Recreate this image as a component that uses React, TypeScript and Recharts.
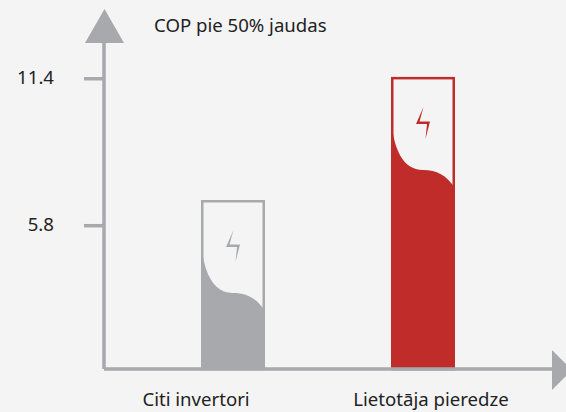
import { BarChart, Bar, XAxis, YAxis, Customized } from "recharts";

const categories = ["Citi invertori", "Lietotāja pieredze"];
const copValues = [6.78, 11.47];
const yTicks = [5.8, 11.4];
const barColors = ["#a7a9ac", "#bf2c29"];
// the labels are not centred under their bars in the original
const labelShifts = [-37, 8];

const AXIS_COLOR = "#a7a9ac";
const TEXT_COLOR = "#222222";
const FONT = "'Noto Sans', sans-serif";
const FONT_SIZE = 18.6;

const chartData = categories.map((name, i) => ({ name, cop: copValues[i] }));

function BatteryBar(props: any) {
  const { x, y, width, height, index } = props;
  const color = barColors[index];
  const bottom = y + height;
  const right = x + width;
  const level =
    `M${x},${y + 40} C${x + 2},${y + 72} ${x + 12},${y + 93} ${x + 32},${y + 93} ` +
    `C${x + 46},${y + 93} ${x + 55},${y + 98} ${right},${y + 111} L${right},${bottom} L${x},${bottom} Z`;
  const bolt =
    `M${x + 32.5},${y + 30} L${x + 25},${y + 47} L${x + 36},${y + 47} L${x + 34.5},${y + 62} ` +
    `L${x + 39},${y + 44.5} L${x + 28.5},${y + 44.5} Z`;
  return (
    <g>
      <path d={level} fill={color} />
      <rect
        x={x + 1.25}
        y={y + 1.25}
        width={width - 2.5}
        height={height - 1.25}
        fill="none"
        stroke={color}
        strokeWidth={2.5}
      />
      <path d={bolt} fill={color} />
    </g>
  );
}

function CategoryTick({ x, y, payload, index }: any) {
  return (
    <text
      x={x + labelShifts[index]}
      y={y + 35}
      textAnchor="middle"
      fontSize={FONT_SIZE}
      fontFamily={FONT}
      fill={TEXT_COLOR}
    >
      {payload.value}
    </text>
  );
}

// arrow heads and the title sit on top of the axes
function Decorations() {
  return (
    <g>
      <polygon points="104.5,9 85,43 124,43" fill={AXIS_COLOR} />
      <polygon points="552,350 552,390 572,370" fill={AXIS_COLOR} />
      <text x={154} y={32} fontSize={FONT_SIZE} fontFamily={FONT} fill={TEXT_COLOR}>
        COP pie 50% jaudas
      </text>
    </g>
  );
}

export default function App() {
  return (
    <div
      style={{
        position: "fixed",
        left: 0,
        top: 0,
        width: 566,
        height: 412,
        background: "#f4f4f5",
        overflow: "hidden",
      }}
    >
      <BarChart
        width={566}
        height={412}
        data={chartData}
        margin={{ top: 42, right: 14, bottom: 0, left: 0 }}
        barSize={64}
      >
        <XAxis
          dataKey="name"
          height={43}
          padding={{ left: 34, right: 34 }}
          axisLine={{ stroke: AXIS_COLOR, strokeWidth: 3.5 }}
          tickLine={false}
          tickSize={0}
          interval={0}
          tick={CategoryTick}
        />
        <YAxis
          width={104}
          domain={[0.34, 12.8]}
          ticks={yTicks}
          tickFormatter={(v: number) => v.toFixed(1)}
          axisLine={{ stroke: AXIS_COLOR, strokeWidth: 3.5 }}
          tickLine={{ stroke: AXIS_COLOR, strokeWidth: 3.5 }}
          tickSize={20}
          tickMargin={30}
          tick={{ fontSize: FONT_SIZE, fontFamily: FONT, fill: TEXT_COLOR, dy: -1 }}
        />
        <Bar dataKey="cop" isAnimationActive={false} shape={BatteryBar} />
        <Customized component={Decorations} />
      </BarChart>
    </div>
  );
}
